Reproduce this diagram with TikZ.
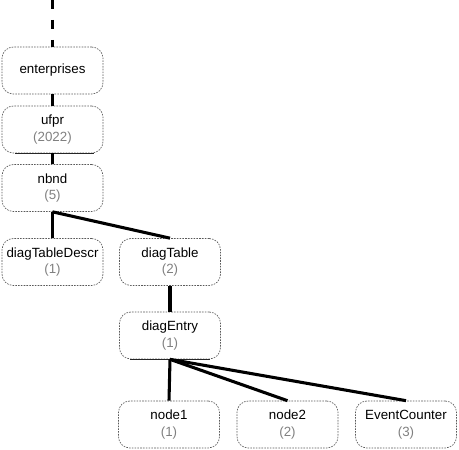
\documentclass[tikz,border=0pt]{standalone}
\usepackage{fontspec}
\setmainfont{Liberation Sans}
\definecolor{boxline}{gray}{0.35}
\definecolor{cnt}{gray}{0.5}
\begin{document}
\begin{tikzpicture}[x=0.75pt,y=-0.75pt,
  box/.style={draw=boxline, line width=0.5pt, dash pattern=on 1.2pt off 0.9pt,
    rounded corners=8.5pt, minimum width=75.75pt, minimum height=35.25pt,
    align=center, inner sep=0pt, font=\fontsize{10}{12.5}\selectfont},
  conn/.style={line width=2.3pt, black},
  base/.style={line width=0.75pt, black!85}]
\useasboundingbox (0,0) rectangle (459,449);
\node[box] (ent) at (52.5,70.5) {enterprises};
\node[box] (ufpr) at (52.5,129.5) {ufpr\\\textcolor{cnt}{(2022)}};
\node[box] (nbnd) at (52.5,188) {nbnd\\\textcolor{cnt}{(5)}};
\node[box] (dtd) at (52.5,262) {diagTableDescr\\\textcolor{cnt}{(1)}};
\node[box] (dt) at (170,262) {diagTable\\\textcolor{cnt}{(2)}};
\node[box] (de) at (170,335.5) {diagEntry\\\textcolor{cnt}{(1)}};
\node[box] (n1) at (169,424.5) {node1\\\textcolor{cnt}{(1)}};
\node[box] (n2) at (287.5,424.5) {node2\\\textcolor{cnt}{(2)}};
\node[box] (ec) at (406,424.5) {EventCounter\\\textcolor{cnt}{(3)}};
\coordinate (top) at (52.5,0);
\draw[line width=2.3pt, dash pattern=on 7pt off 8pt] (top) -- (ent.north);
\draw[base] ([xshift=10pt]ufpr.south west) -- ([xshift=-7pt]ufpr.south east);
\draw[base] ([xshift=8pt]de.south west) -- ([xshift=-8pt]de.south east);
\draw[conn] (ent.south) -- (ufpr.north);
\draw[conn] (ufpr.south) -- (nbnd.north);
\draw[conn] (nbnd.south) -- (dtd.north);
\draw[conn] (nbnd.south) -- (dt.north);
\draw[conn] (dt.south) -- (de.north);
\draw[conn] (de.south) -- (n1.north);
\draw[conn] (de.south) -- (n2.north);
\draw[conn] (de.south) -- (ec.north);
\end{tikzpicture}
\end{document}
